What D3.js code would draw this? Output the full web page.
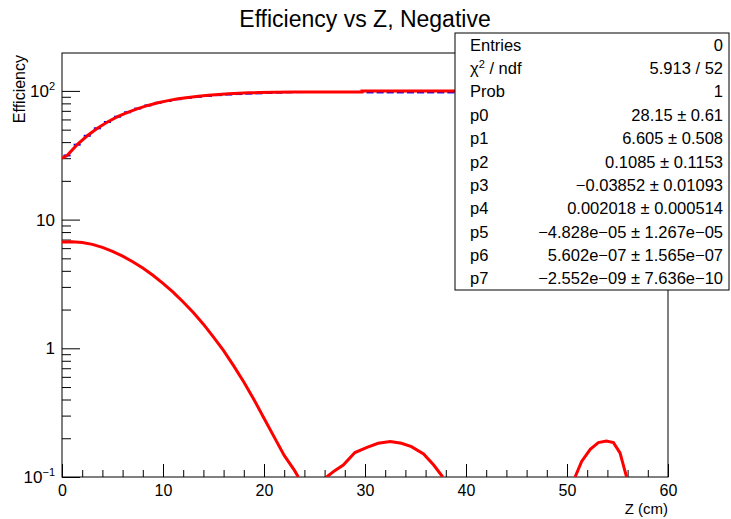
<!DOCTYPE html>
<html>
<head>
<meta charset="utf-8">
<script src="https://cdn.jsdelivr.net/npm/d3@7"></script>
<style>
  body { margin: 0; background: #fff; }
  svg { display: block; font-family: "Liberation Sans", Arial, sans-serif; }
</style>
</head>
<body>
<div id="chart"></div>
<script>
// x axis ticks (cm) and log y decades
const xMajorTicks = [0, 10, 20, 30, 40, 50, 60];
const yDecades = [0.1, 1, 10, 100];
const yDecadeLabels = [["10", "\u22121"], ["1", ""], ["10", ""], ["10", "2"]];

// efficiency histogram: bin centers and values (blue error bars)
const binCenters = [0.5, 1.5, 2.5, 3.5, 4.5, 5.5, 6.5, 7.5, 8.5, 9.5,
  10.5, 11.5, 12.5, 13.5, 14.5, 15.5, 16.5, 17.5, 18.5, 19.5,
  20.5, 21.5, 22.5, 23.5, 24.5, 25.5, 26.5, 27.5, 28.5, 29.5,
  30.5, 31.5, 32.5, 33.5, 34.5, 35.5, 36.5, 37.5, 38.5, 39.5,
  40.5, 41.5, 42.5, 43.5, 44.5, 45.5, 46.5, 47.5, 48.5, 49.5,
  50.5, 51.5, 52.5, 53.5, 54.5, 55.5, 56.5, 57.5, 58.5, 59.5];
const effValues = [31.5, 38.2, 44.8, 51.2, 57.3, 63.0, 68.2, 72.9, 77.1, 80.8,
  83.5, 86.2, 88.3, 90.0, 91.5, 92.7, 93.7, 94.5, 95.2, 95.7,
  96.4, 97.0, 97.6, 97.9, 98.0, 98.0, 98.0, 98.0, 98.0, 98.0,
  97.3, 97.3, 97.3, 97.3, 97.3, 97.3, 97.3, 97.3, 97.3, 97.3,
  97.3, 97.3, 97.3, 97.3, 97.3, 97.3, 97.3, 97.3, 97.3, 97.3,
  97.3, 97.3, 97.3, 97.3, 97.3, 97.3, 97.3, 97.3, 97.3, 97.3];

// red curve over the efficiency
const upperZ = [0, 0.5, 1.5, 2.5, 3.5, 4.5, 5.5, 6.5, 7.5, 8.5, 9.5,
  10.5, 11.5, 12.5, 13.5, 14.5, 15.5, 16.5, 17.5, 18.5, 19.5,
  21, 23, 25, 29.7, 29.7, 60];
const upperEff = [30.0, 31.5, 38.2, 44.8, 51.2, 57.3, 63.0, 68.2, 72.9, 77.1, 80.8,
  84.0, 86.8, 89.0, 91.0, 92.6, 93.9, 95.0, 95.9, 96.6, 97.1,
  97.7, 98.1, 98.2, 98.2, 100, 100];

// lower red curve, three visible pieces above 0.1
const lowerZ1 = [0, 1, 2, 3, 4, 5, 6, 7, 8, 9, 10, 11, 12, 13, 14, 15, 16,
  17, 18, 19, 20, 21, 22, 23, 23.4];
const lowerVal1 = [6.7, 6.74, 6.64, 6.42, 6.08, 5.67, 5.2, 4.71, 4.2, 3.69, 3.2,
  2.73, 2.29, 1.9, 1.54, 1.22, 0.96, 0.73, 0.547, 0.4, 0.286, 0.205, 0.147, 0.113, 0.1];
const lowerZ2 = [26.2, 27.0, 27.85, 29.0, 30.2, 31.3, 32.5, 33.6, 34.6, 35.8, 36.8, 37.7];
const lowerVal2 = [0.1, 0.112, 0.124, 0.155, 0.17, 0.183, 0.189, 0.183, 0.172, 0.151, 0.124, 0.1];
const lowerZ3 = [50.8, 51.45, 52.3, 53.1, 53.9, 54.6, 55.25, 55.74, 55.9];
const lowerVal3 = [0.1, 0.132, 0.164, 0.185, 0.19, 0.185, 0.154, 0.111, 0.1];

// stats box
const statNames = ["Entries", "\u03c7", "Prob", "p0", "p1", "p2", "p3", "p4", "p5", "p6", "p7"];
const statValues = ["0", "5.913 / 52", "1", "28.15 \u00b1 0.61", "6.605 \u00b1 0.508",
  "0.1085 \u00b1 0.1153", "\u22120.03852 \u00b1 0.01093", "0.002018 \u00b1 0.000514",
  "\u22124.828e\u221205 \u00b1 1.267e\u221205", "5.602e\u221207 \u00b1 1.565e\u221207",
  "\u22122.552e\u221209 \u00b1 7.636e\u221210"];

function drawChart() {
  const W = 731, H = 519;
  const left = 62, right = 668, top = 53, bottom = 477;

  const svg = d3.select("#chart")
    .append("svg")
    .attr("width", W)
    .attr("height", H);

  const x = d3.scaleLinear().domain([0, 60]).range([left, right]);
  const y = d3.scaleLog().domain([0.1, 197]).range([bottom, top]);

  svg.append("defs").append("clipPath")
    .attr("id", "plotclip")
    .append("rect")
    .attr("x", left).attr("y", top)
    .attr("width", right - left).attr("height", bottom - top);

  // title
  svg.append("text")
    .attr("x", 365).attr("y", 27)
    .attr("text-anchor", "middle")
    .attr("font-size", "23px")
    .text("Efficiency vs Z, Negative");

  // frame
  svg.append("rect")
    .attr("x", left).attr("y", top)
    .attr("width", right - left).attr("height", bottom - top)
    .attr("fill", "none").attr("stroke", "#000").attr("stroke-width", 1);

  // x axis: major ticks every 10, minor every 2
  const xAxis = d3.axisBottom(x).tickValues(xMajorTicks).tickSize(-13).tickPadding(19).tickFormat(d3.format("d"));
  const gx = svg.append("g").attr("transform", `translate(0,${bottom})`).call(xAxis);
  gx.select(".domain").remove();
  gx.selectAll("text").attr("font-size", "16px").attr("font-family", "inherit").attr("fill", "#000").attr("dy", "0");
  const xMinor = d3.range(0, 61, 2).filter(v => v % 10 !== 0);
  const gxm = svg.append("g").attr("transform", `translate(0,${bottom})`)
    .call(d3.axisBottom(x).tickValues(xMinor).tickSize(-7).tickFormat(""));
  gxm.select(".domain").remove();

  // y axis: decades and minor ticks
  const yMinor = [];
  yDecades.forEach(d => { for (let k = 2; k <= 9; k++) { if (d * k < 197) yMinor.push(d * k); } });
  const gy = svg.append("g").attr("transform", `translate(${left},0)`)
    .call(d3.axisLeft(y).tickValues(yDecades).tickSize(-18).tickFormat(""));
  gy.select(".domain").remove();
  const gym = svg.append("g").attr("transform", `translate(${left},0)`)
    .call(d3.axisLeft(y).tickValues(yMinor).tickSize(-9).tickFormat(""));
  gym.select(".domain").remove();
  svg.selectAll(".tick line").attr("stroke", "#000");

  yDecades.forEach((d, i) => {
    const t = svg.append("text")
      .attr("x", 55).attr("y", y(d) + 6)
      .attr("text-anchor", "end")
      .attr("font-size", "17px");
    t.append("tspan").text(yDecadeLabels[i][0]);
    if (yDecadeLabels[i][1]) {
      t.append("tspan").attr("dy", -7).attr("font-size", "11px").text(yDecadeLabels[i][1]);
    }
  });

  // axis titles
  svg.append("text")
    .attr("x", right).attr("y", 514)
    .attr("text-anchor", "end")
    .attr("font-size", "15px")
    .text("Z (cm)");
  svg.append("text")
    .attr("transform", `translate(25,${top + 2}) rotate(-90)`)
    .attr("text-anchor", "end")
    .attr("font-size", "16px")
    .text("Efficiency");

  const plot = svg.append("g").attr("clip-path", "url(#plotclip)");

  // blue error bars (horizontal bars at bin centers)
  plot.selectAll(".errbar")
    .data(binCenters.map((z, i) => ({ z: z, v: effValues[i] })))
    .enter()
    .append("line")
    .attr("class", "errbar")
    .attr("x1", d => x(d.z - 0.35))
    .attr("x2", d => x(d.z + 0.35))
    .attr("y1", d => y(d.v))
    .attr("y2", d => y(d.v))
    .attr("stroke", "#0000ff")
    .attr("stroke-width", 2);

  const line = d3.line().x(d => x(d[0])).y(d => y(d[1]));

  const curves = [
    upperZ.map((z, i) => [z, upperEff[i]]),
    lowerZ1.map((z, i) => [z, lowerVal1[i]]),
    lowerZ2.map((z, i) => [z, lowerVal2[i]]),
    lowerZ3.map((z, i) => [z, lowerVal3[i]])
  ];
  plot.selectAll(".curve")
    .data(curves)
    .enter()
    .append("path")
    .attr("class", "curve")
    .attr("d", line)
    .attr("fill", "none")
    .attr("stroke", "#ff0000")
    .attr("stroke-width", 3);

  drawStats(svg);
}

function drawStats(svg) {
  const bx = 455, by = 33, bw = 274, bh = 257;
  const rowH = bh / statNames.length;

  svg.append("rect")
    .attr("x", bx).attr("y", by)
    .attr("width", bw).attr("height", bh)
    .attr("fill", "#fff").attr("stroke", "#000").attr("stroke-width", 1);

  statNames.forEach((name, i) => {
    const cy = by + rowH * (i + 0.5) + 6;
    const t = svg.append("text")
      .attr("x", bx + 15).attr("y", cy)
      .attr("font-size", "16.5px");
    t.append("tspan").text(name);
    if (name === "\u03c7") {
      t.append("tspan").attr("dy", -6).attr("font-size", "11px").text("2");
      t.append("tspan").attr("dy", 6).text(" / ndf");
    }
    svg.append("text")
      .attr("x", bx + bw - 6).attr("y", cy)
      .attr("text-anchor", "end")
      .attr("font-size", "16.5px")
      .text(statValues[i]);
  });
}

drawChart();
</script>
</body>
</html>
